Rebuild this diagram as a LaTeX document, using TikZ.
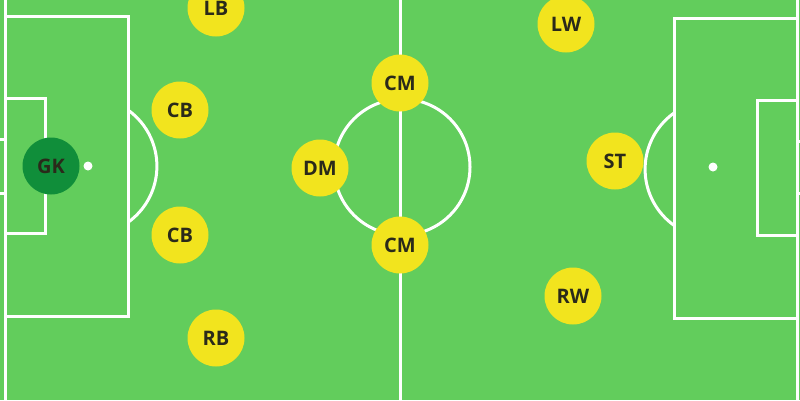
\documentclass[tikz,border=0pt]{standalone}
\usepackage{fontspec}
\setmainfont{Open Sans}
\definecolor{pitch}{HTML}{62CD5C}
\definecolor{plyellow}{HTML}{F2E41E}
\definecolor{gkgreen}{HTML}{108E3A}
\definecolor{labeltxt}{HTML}{2A2A1A}
\begin{document}
\begin{tikzpicture}[x=1pt,y=-1pt,
  pline/.style={draw=white,line width=3pt},
  player/.style={circle,fill=plyellow,minimum size=57pt,inner sep=0pt,text=labeltxt,font=\fontsize{20pt}{20pt}\selectfont\bfseries},
  keeper/.style={player,fill=gkgreen}]
\fill[pitch] (0,0) rectangle (800,400);
\useasboundingbox (0,0) rectangle (800,400);
% halfway line and centre circle
\draw[pline] (400,0) -- (400,400);
\draw[pline] (402,167) circle (68);
% left side
\draw[pline] (5,0) -- (5,400);
\draw[pline] (5,16) -- (128,16) -- (128,316) -- (5,316);
\draw[pline] (5,98) -- (45,98) -- (45,233) -- (5,233);
\draw[pline] (5,139) -- (0,139);
\draw[pline] (5,193) -- (0,193);
\fill[white] (88,166) circle (4.5);
\draw[pline] (128,110) arc[start angle=-54.5,end angle=54.5,radius=69];
% right side
\draw[pline] (797,0) -- (797,400);
\draw[pline] (797,18) -- (674,18) -- (674,318) -- (797,318);
\draw[pline] (797,100) -- (757,100) -- (757,235) -- (797,235);
\draw[pline] (797,141) -- (800,141);
\draw[pline] (797,193) -- (800,193);
\fill[white] (713,167) circle (4.5);
\draw[pline] (674,113) arc[start angle=234.5,end angle=125.5,radius=69];
% players
\node[keeper] (gk) at (51,166) {GK};
\node[player] (lb) at (216,8) {LB};
\node[player] (cb1) at (180,110) {CB};
\node[player] (cb2) at (180,235) {CB};
\node[player] (rb) at (216,338) {RB};
\node[player] (dm) at (320,168) {DM};
\node[player] (cm1) at (400,83) {CM};
\node[player] (cm2) at (400,245) {CM};
\node[player] (lw) at (566,24) {LW};
\node[player] (st) at (615,161) {ST};
\node[player] (rw) at (573,296) {RW};
\end{tikzpicture}
\end{document}
